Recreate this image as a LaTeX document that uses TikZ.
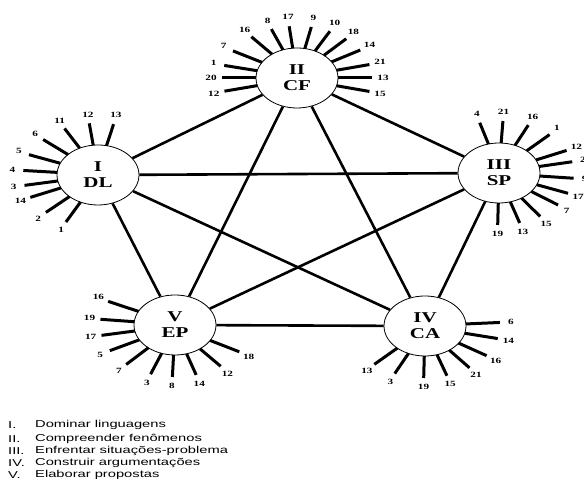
\documentclass[tikz,border=0pt]{standalone}
\usepackage{fontspec}
\setmainfont{Liberation Serif}[FakeStretch=1.4]
\setsansfont{Liberation Sans}[FakeStretch=1.47]
\usetikzlibrary{shapes.geometric}

\tikzset{
  comp/.style={ellipse, draw, line width=0.8pt, fill=white, minimum width=82pt,
    minimum height=60pt, inner sep=0pt, align=center,
    font=\bfseries\fontsize{15}{16}\selectfont},
  link/.style={line width=2.6pt},
  spoke/.style={line width=3pt},
  num/.style={inner sep=0pt, font=\bfseries\fontsize{8}{8}\selectfont},
  legend/.style={inner sep=0pt, anchor=west, font=\sffamily\fontsize{10}{11}\selectfont}
}

\begin{document}
\begin{tikzpicture}[x=1pt, y=1pt]
\useasboundingbox (0,0) rectangle (584,479);

% competencies
\node[comp] (cf) at (297,401) {II\\CF};
\node[comp] (dl) at (98,304) {I\\DL};
\node[comp] (sp) at (499,306) {III\\SP};
\node[comp] (ep) at (175,154) {V\\EP};
\node[comp] (ca) at (425,153) {IV\\CA};

% links between every pair
\draw[link] (dl) -- (cf);
\draw[link] (dl) -- (sp);
\draw[link] (dl) -- (ca);
\draw[link] (dl) -- (ep);
\draw[link] (cf) -- (sp);
\draw[link] (cf) -- (ca);
\draw[link] (cf) -- (ep);
\draw[link] (sp) -- (ep);
\draw[link] (sp) -- (ca);
\draw[link] (ep) -- (ca);

% spokes of II
\begin{scope}[shift={(cf)}]
\foreach \a/\n in {194.7/12, 180/20, 166/1, 148.6/7, 127.5/16, 110/8, 96/17,
    79/9, 64/10, 49/18, 32.5/14, 15/21, 0/13, -15/15} {
  \draw[spoke] (\a:41pt and 30pt) -- (\a:75pt and 52pt);
  \node[num] (cf-\n) at (\a:86pt and 61pt) {\n};
}
\end{scope}

% spokes of I
\begin{scope}[shift={(dl)}]
\foreach \a/\n in {78/13, 96.7/12, 116.5/11, 137/6, 157/5, 175/4, 191.5/3,
    205.5/14, 226/2, 244.7/1} {
  \draw[spoke] (\a:41pt and 30pt) -- (\a:75pt and 52pt);
  \node[num] (dl-\n) at (\a:86pt and 61pt) {\n};
}
\end{scope}

% spokes of III
\begin{scope}[shift={(sp)}]
\foreach \a/\n in {104.9/4, 87/21, 67/16, 47.6/1, 25.7/12, 12.5/2, -5.8/9,
    -23/17, -38/7, -56.7/15, -74/13, -91/19} {
  \draw[spoke] (\a:41pt and 30pt) -- (\a:75pt and 52pt);
  \node[num] (sp-\n) at (\a:86pt and 61pt) {\n};
}
\end{scope}

% spokes of V
\begin{scope}[shift={(ep)}]
\foreach \a/\n in {153/16, 173.7/19, 191.5/17, 209.6/5, 229.4/7, 251/3,
    268/8, 286.4/14, 307.5/12, 329/18} {
  \draw[spoke] (\a:41pt and 30pt) -- (\a:75pt and 52pt);
  \node[num] (ep-\n) at (\a:86pt and 61pt) {\n};
}
\end{scope}

% spokes of IV
\begin{scope}[shift={(ca)}]
\foreach \a/\n in {3.9/6, -14/14, -34.8/16, -53.6/21, -73/15, -91/19,
    -113.8/3, -132.5/13} {
  \draw[spoke] (\a:41pt and 30pt) -- (\a:75pt and 52pt);
  \node[num] (ca-\n) at (\a:86pt and 61pt) {\n};
}
\end{scope}

% legend
\foreach \i/\r/\t/\y in {1/I./Dominar linguagens/54,
    2/II./Compreender fenômenos/40,
    3/III./Enfrentar situações-problema/28,
    4/IV./Construir argumentações/16,
    5/V./Elaborar propostas/4} {
  \node[legend] (key-\i) at (8,\y) {\r};
  \node[legend] (txt-\i) at (35,\y) {\t};
}
\end{tikzpicture}
\end{document}
